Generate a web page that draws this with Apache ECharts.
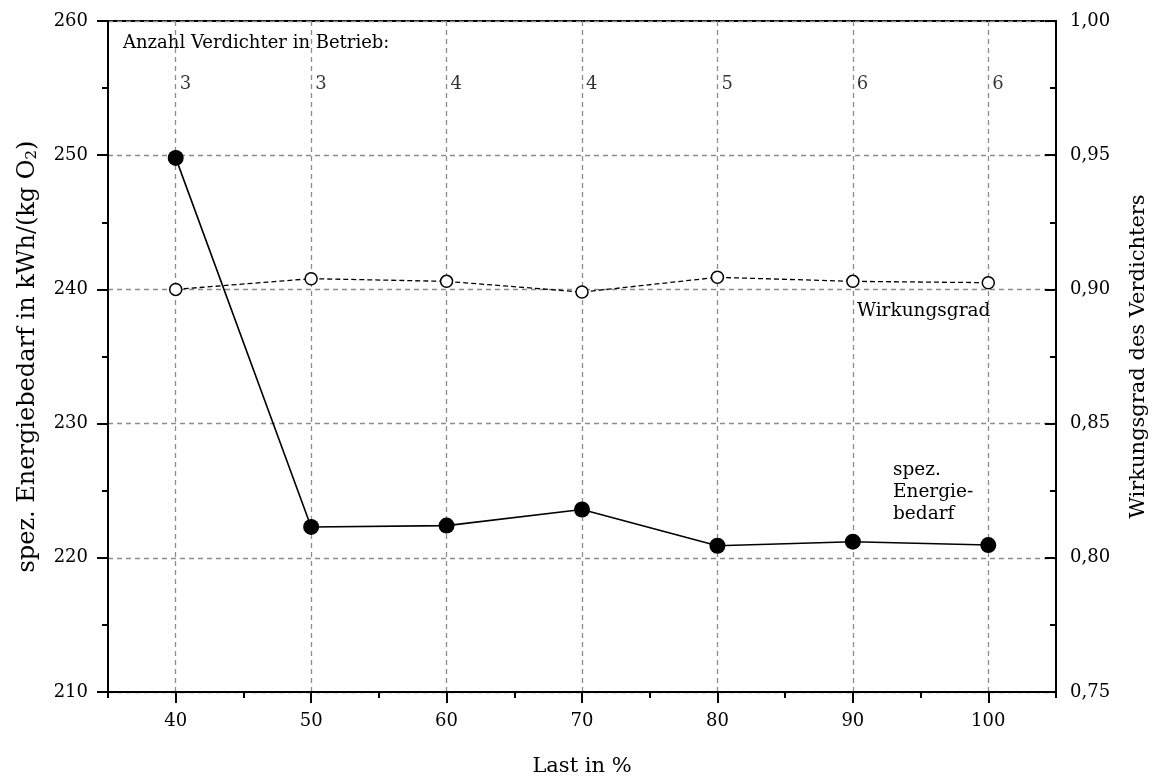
<!DOCTYPE html>
<html>
<head>
<meta charset="utf-8">
<script src="https://cdn.jsdelivr.net/npm/echarts@6/dist/echarts.min.js"></script>
<style>
  html, body { margin: 0; padding: 0; background: #fff; }
  #chart { width: 1159px; height: 778px; }
</style>
</head>
<body>
<div id="chart"></div>
<script>
// Last in % (x positions of the measurement points)
const last = [40, 50, 60, 70, 80, 90, 100];
// spezifischer Energiebedarf in kWh/(kg O2), left axis
const energiebedarf = [249.8, 222.3, 222.4, 223.6, 220.9, 221.2, 220.95];
// Wirkungsgrad des Verdichters, right axis
const wirkungsgrad = [0.900, 0.904, 0.903, 0.899, 0.9045, 0.903, 0.9025];
// Anzahl Verdichter in Betrieb at each load step
const verdichter = [3, 3, 4, 4, 5, 6, 6];
// tick values of the load axis
const xMajor = [40, 50, 60, 70, 80, 90, 100];
const xMinor = [35, 45, 55, 65, 75, 85, 95, 105];

const FONT = 'DejaVu Serif';
const chart = echarts.init(document.getElementById('chart'), null, { renderer: 'canvas' });

const gridLine = { show: true, lineStyle: { color: '#8c8c8c', type: [5, 4], width: 1.3 } };

chart.setOption({
  animation: false,
  textStyle: { fontFamily: FONT, color: '#000' },
  grid: { left: 108, right: 103, top: 21, bottom: 86, outerBoundsMode: 'none', containLabel: false,
    show: true, borderColor: '#000', borderWidth: 2, backgroundColor: 'transparent' },
  xAxis: [
    {
      type: 'value', min: 35, max: 105,
      name: 'Last in %', nameLocation: 'middle', nameGap: 64,
      nameTextStyle: { fontFamily: FONT, fontSize: 21, color: '#000' },
      axisLine: { show: true, lineStyle: { color: '#000', width: 2 } },
      axisTick: { show: true, length: 11, lineStyle: { color: '#000', width: 2 }, customValues: xMajor },
      axisLabel: { customValues: xMajor, margin: 20, fontFamily: FONT, fontSize: 18, color: '#000' },
      splitLine: gridLine
    },
    {
      type: 'value', min: 35, max: 105, position: 'bottom',
      axisLine: { show: false },
      axisTick: { show: true, length: 6, lineStyle: { color: '#000', width: 2 }, customValues: xMinor },
      axisLabel: { show: false },
      splitLine: { show: false }
    }
  ],
  yAxis: [
    {
      type: 'value', min: 210, max: 260, interval: 10, position: 'left',
      name: '{t|spez. Energiebedarf in kWh/(kg O}{s|2}{t|)}',
      nameLocation: 'middle', nameGap: 68, nameRotate: 90,
      nameTextStyle: {
        rich: {
          t: { fontFamily: FONT, fontSize: 24, color: '#000' },
          s: { fontFamily: FONT, fontSize: 15, color: '#000', verticalAlign: 'bottom', padding: [10, 0, 0, 0] }
        }
      },
      axisLine: { show: true, lineStyle: { color: '#000', width: 2 } },
      axisTick: { show: true, length: 11, lineStyle: { color: '#000', width: 2 } },
      minorTick: { show: true, splitNumber: 2, length: 6, lineStyle: { color: '#000', width: 2 } },
      axisLabel: { margin: 20, fontFamily: FONT, fontSize: 18, color: '#000' },
      splitLine: gridLine
    },
    {
      type: 'value', min: 0.75, max: 1.0, interval: 0.05, position: 'right',
      name: 'Wirkungsgrad des Verdichters',
      nameLocation: 'middle', nameGap: 72, nameRotate: 90,
      nameTextStyle: { fontFamily: FONT, fontSize: 21, color: '#000' },
      axisLine: { show: true, lineStyle: { color: '#000', width: 2 } },
      axisTick: { show: true, inside: true, length: 11, lineStyle: { color: '#000', width: 2 } },
      minorTick: { show: true, splitNumber: 2, length: 6, lineStyle: { color: '#000', width: 2 } },
      axisLabel: { margin: 14, fontFamily: FONT, fontSize: 18, color: '#000',
        formatter: v => v.toFixed(2).replace('.', ',') },
      splitLine: { show: false }
    }
  ],
  series: [
    {
      name: 'Wirkungsgrad', type: 'line', yAxisIndex: 1,
      data: last.map((x, i) => [x, wirkungsgrad[i]]),
      symbol: 'circle', symbolSize: 12,
      itemStyle: { color: '#fff', borderColor: '#000', borderWidth: 1.5 },
      lineStyle: { color: '#000', width: 1.3, type: [5, 3] },
      z: 3
    },
    {
      name: 'spez. Energiebedarf', type: 'line', yAxisIndex: 0,
      data: last.map((x, i) => [x, energiebedarf[i]]),
      symbol: 'circle', symbolSize: 16,
      itemStyle: { color: '#000', borderColor: '#000', borderWidth: 0 },
      lineStyle: { color: '#000', width: 1.6 },
      z: 4
    },
    {
      name: 'Verdichter', type: 'scatter', yAxisIndex: 0,
      data: last.map((x, i) => [x, 255.3, verdichter[i]]),
      symbolSize: 0,
      label: { show: true, position: 'right', distance: 4, formatter: p => String(p.value[2]),
        fontFamily: FONT, fontSize: 18, color: '#000' },
      silent: true, z: 5
    }
  ],
  graphic: [
    { type: 'text', left: 123, top: 34, style: { text: 'Anzahl Verdichter in Betrieb:', font: '18px "DejaVu Serif"', fill: '#000' } },
    { type: 'text', left: 857, top: 302, style: { text: 'Wirkungsgrad', font: '18.5px "DejaVu Serif"', fill: '#000' } },
    { type: 'text', left: 893, top: 459, style: { text: 'spez.\nEnergie-\nbedarf', font: '18.5px "DejaVu Serif"', fill: '#000', lineHeight: 22 } }
  ]
});
</script>
</body>
</html>
